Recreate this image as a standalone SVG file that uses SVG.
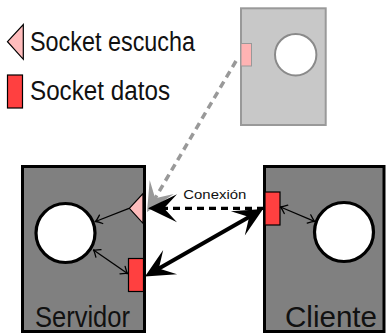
<svg xmlns="http://www.w3.org/2000/svg" width="386" height="333" viewBox="0 0 386 333">
  <style>
    .label { font-family: "Liberation Sans", "DejaVu Sans", sans-serif; fill: #111; }
    .box { fill: #808080; stroke: #000; stroke-width: 3; }
    .core { fill: #fff; stroke: #000; stroke-width: 3.2; }
    .listen { fill: #ffbcbc; stroke: #000; stroke-width: 1.2; stroke-linejoin: miter; }
    .data { fill: #ff4040; stroke: #000; stroke-width: 1.2; }
    .thin { fill: none; stroke: #000; stroke-width: 1.3; }
  </style>
  <defs>
    <!-- large stealth heads, tip placed 8px past the path end -->
    <marker id="stealth" viewBox="-32 -16 34 32" refX="-8" refY="0" markerWidth="34" markerHeight="32" markerUnits="userSpaceOnUse" orient="auto-start-reverse">
      <path d="M0,0 L-29,-14 L-16,0 L-29,14 Z" fill="#000"/>
    </marker>
    <marker id="stealth-gray" viewBox="-32 -16 34 32" refX="-8" refY="0" markerWidth="34" markerHeight="32" markerUnits="userSpaceOnUse" orient="auto-start-reverse">
      <path d="M0,0 L-29,-14 L-16,0 L-29,14 Z" fill="#999"/>
    </marker>
    <!-- small open head for the internal links -->
    <marker id="to" viewBox="-8 -6 9 12" refX="0" refY="0" markerWidth="9" markerHeight="12" markerUnits="userSpaceOnUse" orient="auto-start-reverse">
      <path d="M-6,-4.5 Q-2,-1 0,0 Q-2,1 -6,4.5" fill="none" stroke="#000" stroke-width="1.3" stroke-linecap="round"/>
    </marker>
  </defs>

  <!-- legend -->
  <g id="legend">
    <polygon class="listen" points="7.5,41.7 23.3,24.5 23.3,59.3"/>
    <text class="label" x="30" y="51" font-size="27" textLength="165" lengthAdjust="spacingAndGlyphs">Socket escucha</text>
    <rect class="data" x="7.5" y="75" width="15" height="33"/>
    <text class="label" x="30" y="100" font-size="27" textLength="140" lengthAdjust="spacingAndGlyphs">Socket datos</text>
  </g>

  <!-- faded process: the listening socket it spawns from -->
  <g id="origen">
    <rect x="241" y="8.3" width="84.7" height="116.7" fill="#c8c8c8" stroke="#999" stroke-width="2"/>
    <circle cx="295.7" cy="54.7" r="20.7" fill="#fff" stroke="#8a8a8a" stroke-width="2"/>
    <rect x="241" y="43.5" width="10.5" height="22.5" fill="#ffb3b3" stroke="#999" stroke-width="1"/>
  </g>

  <!-- server -->
  <g id="servidor">
    <rect class="box" x="22.5" y="166.5" width="122" height="165"/>
    <circle class="core" cx="65.5" cy="233" r="29.5"/>
    <polygon class="listen" points="129.3,208.3 143,193.5 143,223.3"/>
    <rect class="data" x="128.5" y="258.5" width="15" height="33"/>
    <text class="label" x="35" y="326.5" font-size="30" textLength="95" lengthAdjust="spacingAndGlyphs">Servidor</text>
  </g>

  <!-- client -->
  <g id="cliente">
    <rect class="box" x="264.5" y="166.5" width="119.5" height="165"/>
    <circle class="core" cx="344" cy="232" r="29.5"/>
    <rect class="data" x="265" y="192" width="15" height="33"/>
    <text class="label" x="285" y="327" font-size="30" textLength="92" lengthAdjust="spacingAndGlyphs">Cliente</text>
  </g>

  <!-- connectors -->
  <g id="conectores">
    <path d="M236,61 L151.1,205.1" fill="none" stroke="#999" stroke-width="3.5" stroke-dasharray="7 5" marker-end="url(#stealth-gray)"/>
    <path d="M264,208.3 L156,208.3" fill="none" stroke="#000" stroke-width="3.3" stroke-dasharray="7 5" marker-end="url(#stealth)"/>
    <path d="M151.9,272.5 L256.1,213" fill="none" stroke="#000" stroke-width="4" marker-start="url(#stealth)" marker-end="url(#stealth)"/>
    <path class="thin" d="M129,208.3 L95.5,221.5" marker-end="url(#to)"/>
    <path class="thin" d="M93.5,250 L127.5,273.5" marker-start="url(#to)" marker-end="url(#to)"/>
    <path class="thin" d="M280.5,207 L314.5,221.3" marker-start="url(#to)" marker-end="url(#to)"/>
    <text class="label" x="183.3" y="199.3" font-size="13" textLength="63" lengthAdjust="spacingAndGlyphs">Conexión</text>
  </g>
</svg>
